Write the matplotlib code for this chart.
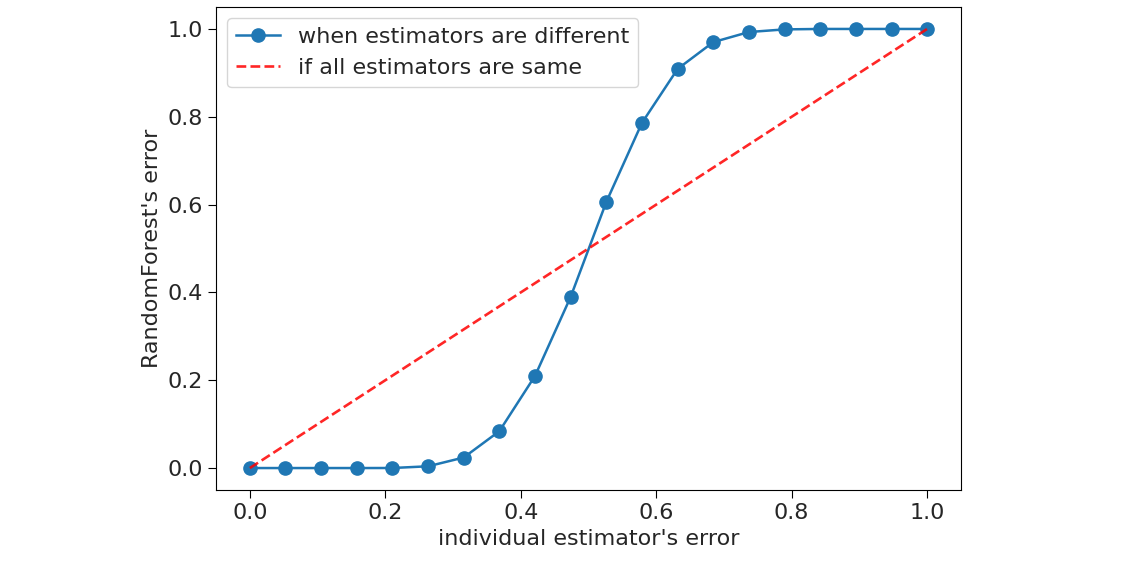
import matplotlib
matplotlib.use("Agg")
import matplotlib.pyplot as plt

x_err = [0.0, 0.0526, 0.1053, 0.1579, 0.2105, 0.2632, 0.3158, 0.3684, 0.4211, 0.4737,
         0.5263, 0.5789, 0.6316, 0.6842, 0.7368, 0.7895, 0.8421, 0.8947, 0.9474, 1.0]
rf_err = [0.0, 0.0, 0.0, 0.0, 0.0001, 0.004, 0.024, 0.084, 0.21, 0.39,
          0.606, 0.786, 0.909, 0.970, 0.993, 0.999, 1.0, 1.0, 1.0, 1.0]
same_x = [0.0, 1.0]
same_y = [0.0, 1.0]

fs = 16
fig = plt.figure(figsize=(11.39, 5.61), dpi=100)
ax = fig.add_axes([216/1139, 1 - 490/561, (961-216)/1139, (490-7)/561])
ax.plot(x_err, rf_err, 'o-', color='#1f77b4', markersize=9.5, linewidth=1.8,
        label='when estimators are different')
ax.plot(same_x, same_y, '--', color='red', alpha=0.85, linewidth=1.9,
        label='if all estimators are same')
ax.set_xlim(-0.05, 1.05)
ax.set_ylim(-0.05, 1.05)
ax.set_xticks([0, 0.2, 0.4, 0.6, 0.8, 1.0])
ax.set_yticks([0, 0.2, 0.4, 0.6, 0.8, 1.0])
ax.tick_params(labelsize=fs, length=6, labelcolor='#262626')
ax.set_xlabel("individual estimator's error", fontsize=fs, color='#262626')
ax.set_ylabel("RandomForest's error", fontsize=fs, color='#262626')
leg = ax.legend(fontsize=fs, loc='upper left')
for t in leg.get_texts():
    t.set_color('#262626')
fig.savefig("out.png", dpi=100)
